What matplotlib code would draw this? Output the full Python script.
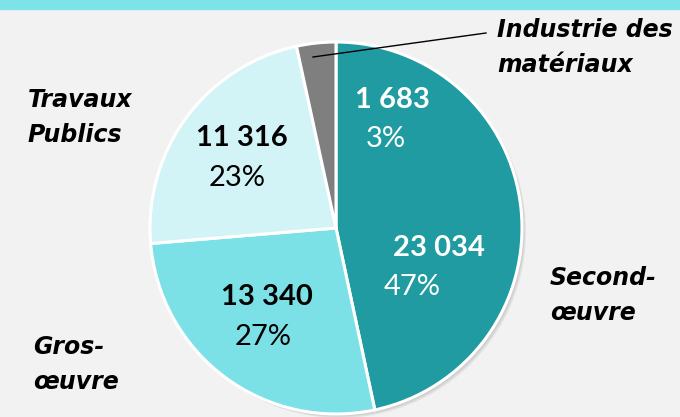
import matplotlib.pyplot as plt
from matplotlib.patches import Rectangle, Circle

# ── Data ────────────────────────────────────────────────────────────────────
sectors = ['Second-\nœuvre', 'Gros-\nœuvre', 'Travaux\nPublics', 'Industrie des\nmatériaux']
effectifs = [23034, 13340, 11316, 1683]
colors = ['#1f9ba1', '#7ce1e6', '#d3f4f6', '#7f7f7f']

total = sum(effectifs)
pcts = [round(v / total * 100) for v in effectifs]
nums = [f'{v:,}'.replace(',', ' ') for v in effectifs]

# ── Layout (pixel coords, origin top-left) ──────────────────────────────────
W, H = 680, 417
cx, cy, r = 336, 228, 186
num_pos = [(439, 248), (267, 297), (242, 138), (392, 100)]
pct_pos = [(412, 287), (263, 337), (237, 178), (386, 139)]
num_col = ['white', 'black', 'black', 'white']
# left x, baseline of first line
name_pos = [(550, 285), (33, 354), (28, 107), (497, 37)]
line_gap = 35

plt.rcParams['font.family'] = ['Lato', 'DejaVu Sans']

fig = plt.figure(figsize=(W / 100, H / 100), dpi=100)
fig.patch.set_facecolor('#f2f2f2')
ax = fig.add_axes([0, 0, 1, 1])

def Y(y):
    return H - y

# top band
ax.add_patch(Rectangle((0, Y(8.5)), W, 8.5, color='#7de3e8', zorder=1))

# soft shadow
for i, a in enumerate([0.05, 0.05, 0.06]):
    ax.add_patch(Circle((cx + 2 + i, Y(cy) - 2 - i), r, color='black', alpha=a,
                        lw=0, zorder=1))

ax.pie(effectifs, colors=colors, startangle=90, counterclock=False,
       center=(cx, Y(cy)), radius=r, frame=True,
       wedgeprops=dict(edgecolor='white', linewidth=2.2))
ax.set_xlim(0, W)
ax.set_ylim(0, H)
ax.set_aspect('equal')
ax.axis('off')

for i in range(len(effectifs)):
    x, y = num_pos[i]
    ax.text(x, Y(y), nums[i], ha='center', va='center', fontsize=21,
            fontweight='bold', color=num_col[i], zorder=5)
    x, y = pct_pos[i]
    ax.text(x, Y(y), f'{pcts[i]}%', ha='center', va='center', fontsize=21,
            color=num_col[i], zorder=5)
    x, y = name_pos[i]
    for k, line in enumerate(sectors[i].split('\n')):
        ax.text(x, Y(y + k * line_gap), line, ha='left', va='baseline',
                fontsize=17, fontweight='bold', fontstyle='italic',
                color='black', family='DejaVu Sans', zorder=5)

# leader line for the small slice
ax.plot([313, 486], [Y(57), Y(33)], color='black', lw=1, zorder=6)

plt.savefig('out.png', dpi=100, facecolor=fig.get_facecolor())
